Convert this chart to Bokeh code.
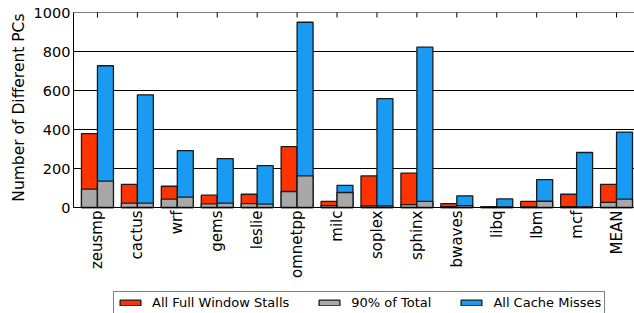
import math
from bokeh.plotting import figure
from bokeh.models import (ColumnDataSource, FixedTicker, Legend, LegendItem, Range1d,
                          BoxAnnotation, Title)
from bokeh.embed import file_html
from bokeh.resources import INLINE

categories = ["zeusmp", "cactus", "wrf", "gems", "leslie", "omnetpp", "milc",
              "soplex", "sphinx", "bwaves", "libq", "lbm", "mcf", "MEAN"]
stalls_all = [379, 119, 109, 63, 68, 312, 31, 162, 176, 20, 5, 31, 68, 119]
stalls_90 = [94, 22, 43, 19, 20, 82, 10, 8, 15, 5, 2, 3, 5, 26]
misses_all = [727, 578, 292, 251, 215, 950, 113, 558, 822, 60, 44, 143, 282, 387]
misses_90 = [135, 22, 53, 22, 17, 162, 77, 8, 31, 10, 3, 32, 3, 43]
y_ticks = [0, 200, 400, 600, 800, 1000]
y_max = 1000
y_label = "Number of Different PCs"

RED = "#FF3300"
GRAY = "#A8A8A8"
BLUE = "#1A9BF3"
EDGE = "#1a1a1a"
FONT = "DejaVu Sans"

# layout (pixels): plotting box is 195 px tall, frame extends below it for labels + legend
PLOT_H = 195
FRAME_H = 301
X_START, X_END = -0.6, 13.45
y_min = -y_max * (FRAME_H - PLOT_H) / PLOT_H

idx = list(range(len(categories)))
left_x = [i - 0.2 for i in idx]
right_x = [i + 0.2 for i in idx]

src = ColumnDataSource(dict(lx=left_x, rx=right_x, s_all=stalls_all, s_90=stalls_90,
                            m_all=misses_all, m_90=misses_90))

p = figure(frame_width=561, frame_height=FRAME_H, output_backend="svg",
           toolbar_location=None,
           x_range=Range1d(X_START, X_END), y_range=Range1d(y_min, y_max),
           min_border_left=73, min_border_right=0, min_border_top=12,
           min_border_bottom=0)

p.outline_line_color = None
p.background_fill_color = "white"

kw = dict(width=0.4, line_color=EDGE, line_width=1.3, bottom=0, source=src)
r_red = p.vbar(x="lx", top="s_all", fill_color=RED, **kw)
r_g1 = p.vbar(x="lx", top="s_90", fill_color=GRAY, **kw)
r_blue = p.vbar(x="rx", top="m_all", fill_color=BLUE, **kw)
r_g2 = p.vbar(x="rx", top="m_90", fill_color=GRAY, **kw)

# inward tick marks along the top edge
p.scatter(x=idx, y=[y_max] * len(idx), marker="dash", angle=math.pi / 2, size=10,
          line_color="black", line_width=1)

# plotting box border
p.add_layout(BoxAnnotation(left=X_START, right=X_END, bottom=0, top=y_max,
                           fill_alpha=0, line_color="black", line_alpha=1, line_width=1))

# axes
xa = p.xaxis[0]
xa.fixed_location = 0
xa.ticker = FixedTicker(ticks=idx)
xa.major_label_overrides = {i: c for i, c in zip(idx, categories)}
xa.major_label_orientation = math.pi / 2
xa.major_label_text_font = FONT
xa.major_label_text_font_size = "15px"
xa.major_label_text_color = "black"
xa.major_tick_in = 0
xa.major_tick_out = 0
xa.minor_tick_in = 0
xa.minor_tick_out = 0
xa.major_label_standoff = 3
xa.axis_label_standoff = 0
xa.axis_line_color = "black"

ya = p.yaxis[0]
ya.bounds = (0, y_max)
ya.ticker = FixedTicker(ticks=y_ticks)
ya.major_label_text_font = FONT
ya.major_label_text_font_size = "14.5px"
ya.major_label_text_color = "black"
ya.major_tick_in = 0
ya.major_tick_out = 0
ya.minor_tick_in = 0
ya.minor_tick_out = 0
ya.major_label_standoff = 3
ya.axis_line_color = "black"

# y-axis title, aligned to the top of the frame (the plotting box)
p.add_layout(Title(text=y_label, align="right", offset=1, standoff=5,
                   text_font=FONT, text_font_size="15.5px", text_font_style="normal",
                   text_color="black"), "left")

p.xgrid.visible = False
p.ygrid.ticker = FixedTicker(ticks=y_ticks)
p.ygrid.grid_line_color = "black"
p.ygrid.grid_line_width = 1

legend = Legend(items=[LegendItem(label="All Full Window Stalls", renderers=[r_red]),
                       LegendItem(label="90% of Total", renderers=[r_g1]),
                       LegendItem(label="All Cache Misses", renderers=[r_blue])],
                orientation="horizontal", location=(40, -1))
legend.border_line_color = "black"
legend.border_line_width = 1
legend.padding = 3
legend.spacing = 27
legend.glyph_width = 26
legend.glyph_height = 7
legend.label_standoff = 9
legend.label_height = 8
legend.label_text_font = FONT
legend.label_text_font_size = "13px"
legend.label_text_color = "black"
legend.margin = 0
legend.background_fill_alpha = 1
p.add_layout(legend, "center")

open("out.html", "w").write(file_html(p, INLINE))
